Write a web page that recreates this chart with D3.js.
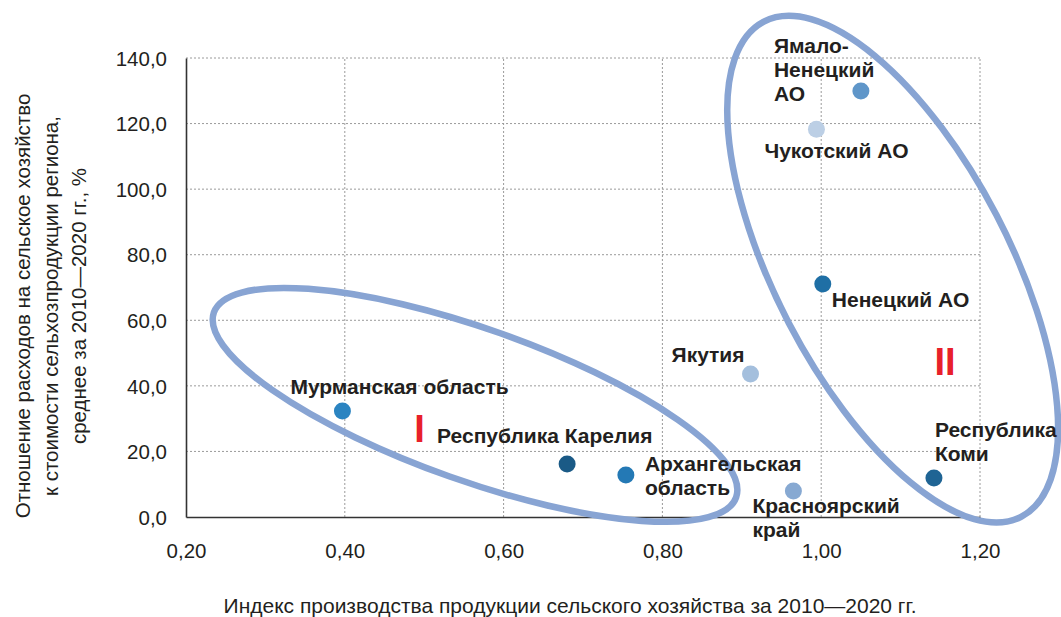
<!DOCTYPE html>
<html>
<head>
<meta charset="utf-8">
<script src="https://cdn.jsdelivr.net/npm/d3@7"></script>
<style>
  body { margin: 0; background: #fff; }
  text { font-family: "Liberation Sans", Arial, sans-serif; fill: #231f20; }
</style>
</head>
<body>
<svg id="chart"></svg>
<script>
var width = 1061;
var height = 617;

var margin = {
  top: 58,
  left: 186,
  right: 81,
  bottom: 100
};

// data
var regions = ["Мурманская область", "Республика Карелия", "Архангельская область",
               "Красноярский край", "Якутия", "Ненецкий АО", "Чукотский АО",
               "Ямало-Ненецкий АО", "Республика Коми"];
var labelLines = [["Мурманская область"], ["Республика Карелия"], ["Архангельская", "область"],
                  ["Красноярский", "край"], ["Якутия"], ["Ненецкий АО"], ["Чукотский АО"],
                  ["Ямало-", "Ненецкий", "АО"], ["Республика", "Коми"]];
var prodIndex = [0.397, 0.68, 0.754, 0.965, 0.911, 1.002, 0.994, 1.05, 1.142];
var spendRatio = [32.3, 16.2, 12.8, 7.9, 43.6, 71.1, 118.3, 129.9, 11.9];
var xTicks = [0.2, 0.4, 0.6, 0.8, 1.0, 1.2];
var yTicks = [0, 20, 40, 60, 80, 100, 120, 140];

// styling / layout
var dotColors = ["#2b84c1", "#1a5a86", "#2479b5", "#87a9d2", "#a4bfdd",
                 "#1f6fa5", "#bccfe5", "#5f96c9", "#1f6494"];
var labelOffsets = [[-52, -17], [-130, -21], [19, -4], [-41, 22], [-79, -12],
                    [9, 23], [-52, 29], [-87, -38], [1, -41]];

var svg = d3.select("#chart").attr("width", width).attr("height", height);

var xScale = d3.scaleLinear()
  .domain([0.2, 1.2])
  .range([margin.left, width - margin.right]);

var yScale = d3.scaleLinear()
  .domain([0, 140])
  .range([height - margin.bottom, margin.top]);

var fmtX = function(d) { return d3.format(".2f")(d).replace(".", ","); };
var fmtY = function(d) { return d3.format(".1f")(d).replace(".", ","); };

// grid
svg.append("g")
  .selectAll("line")
  .data(yTicks.slice(1))
  .enter()
  .append("line")
  .attr("x1", xScale(0.2))
  .attr("x2", xScale(1.2))
  .attr("y1", function(d) { return yScale(d); })
  .attr("y2", function(d) { return yScale(d); })
  .attr("stroke", "#9a9a9a")
  .attr("stroke-dasharray", "2,2");

svg.append("g")
  .selectAll("line")
  .data(xTicks.slice(1))
  .enter()
  .append("line")
  .attr("x1", function(d) { return xScale(d); })
  .attr("x2", function(d) { return xScale(d); })
  .attr("y1", yScale(0))
  .attr("y2", yScale(140))
  .attr("stroke", "#9a9a9a")
  .attr("stroke-dasharray", "2,2");

// axes
var xAxis = svg.append("g")
  .attr("transform", `translate(0, ${yScale(0)})`)
  .call(d3.axisBottom(xScale).tickValues(xTicks).tickFormat(fmtX).tickSize(0).tickPadding(26));

var yAxis = svg.append("g")
  .attr("transform", `translate(${xScale(0.2)},0)`)
  .call(d3.axisLeft(yScale).tickValues(yTicks).tickFormat(fmtY).tickSize(0).tickPadding(19));

svg.selectAll(".domain").attr("stroke", "#333").attr("stroke-width", 1.6);
svg.selectAll(".tick text")
  .attr("font-size", 20.5)
  .attr("fill", "#231f20")
  .style("font-family", "'Liberation Sans', Arial, sans-serif");
yAxis.selectAll(".tick text").attr("dy", "0.35em");

// axis titles
svg.append("text")
  .attr("x", 570)
  .attr("y", 613)
  .attr("text-anchor", "middle")
  .attr("font-size", 21)
  .text("Индекс производства продукции сельского хозяйства за 2010—2020 гг.");

var yTitle = ["Отношение расходов на сельское хозяйство",
              "к стоимости сельхозпродукции региона,",
              "среднее за 2010—2020 гг., %"];
svg.append("g")
  .attr("transform", "translate(30, 306) rotate(-90)")
  .selectAll("text")
  .data(yTitle)
  .enter()
  .append("text")
  .attr("x", 0)
  .attr("y", function(d, i) { return i * 28; })
  .attr("text-anchor", "middle")
  .attr("font-size", 20.5)
  .text(function(d) { return d; });

// group ellipses (annotations)
var groups = [
  {cx: 0.564, cy: 34.2, rx: 277, ry: 76, angle: 19.5},
  {cx: 1.09, cy: 75.6, rx: 279, ry: 117, angle: 62.5}
];
svg.append("g")
  .selectAll("ellipse")
  .data(groups)
  .enter()
  .append("ellipse")
  .attr("transform", function(d) {
    return `translate(${xScale(d.cx)},${yScale(d.cy)}) rotate(${d.angle})`;
  })
  .attr("rx", function(d) { return d.rx; })
  .attr("ry", function(d) { return d.ry; })
  .attr("fill", "none")
  .attr("stroke", "#88a4d3")
  .attr("stroke-width", 6.5);

// points
svg.append("g")
  .selectAll("circle")
  .data(regions)
  .enter()
  .append("circle")
  .attr("cx", function(d, i) { return xScale(prodIndex[i]); })
  .attr("cy", function(d, i) { return yScale(spendRatio[i]); })
  .attr("r", 8.5)
  .attr("fill", function(d, i) { return dotColors[i]; });

// labels
var labels = svg.append("g")
  .selectAll("text")
  .data(regions)
  .enter()
  .append("text")
  .attr("font-size", 21)
  .attr("font-weight", "bold")
  .attr("x", function(d, i) { return xScale(prodIndex[i]) + labelOffsets[i][0]; })
  .attr("y", function(d, i) { return yScale(spendRatio[i]) + labelOffsets[i][1]; });

labels.each(function(d, i) {
  var t = d3.select(this);
  var x0 = t.attr("x");
  labelLines[i].forEach(function(line, j) {
    t.append("tspan")
      .attr("x", x0)
      .attr("dy", j === 0 ? 0 : 24)
      .text(line);
  });
});

// group numerals
svg.append("text")
  .attr("x", xScale(0.494))
  .attr("y", yScale(22.9))
  .attr("text-anchor", "middle")
  .attr("font-size", 38)
  .attr("font-weight", "bold")
  .style("fill", "#e8202a")
  .text("I");

svg.append("text")
  .attr("x", xScale(1.156))
  .attr("y", yScale(43.3))
  .attr("text-anchor", "middle")
  .attr("font-size", 38)
  .attr("font-weight", "bold")
  .style("fill", "#e8202a")
  .text("II");
</script>
</body>
</html>
